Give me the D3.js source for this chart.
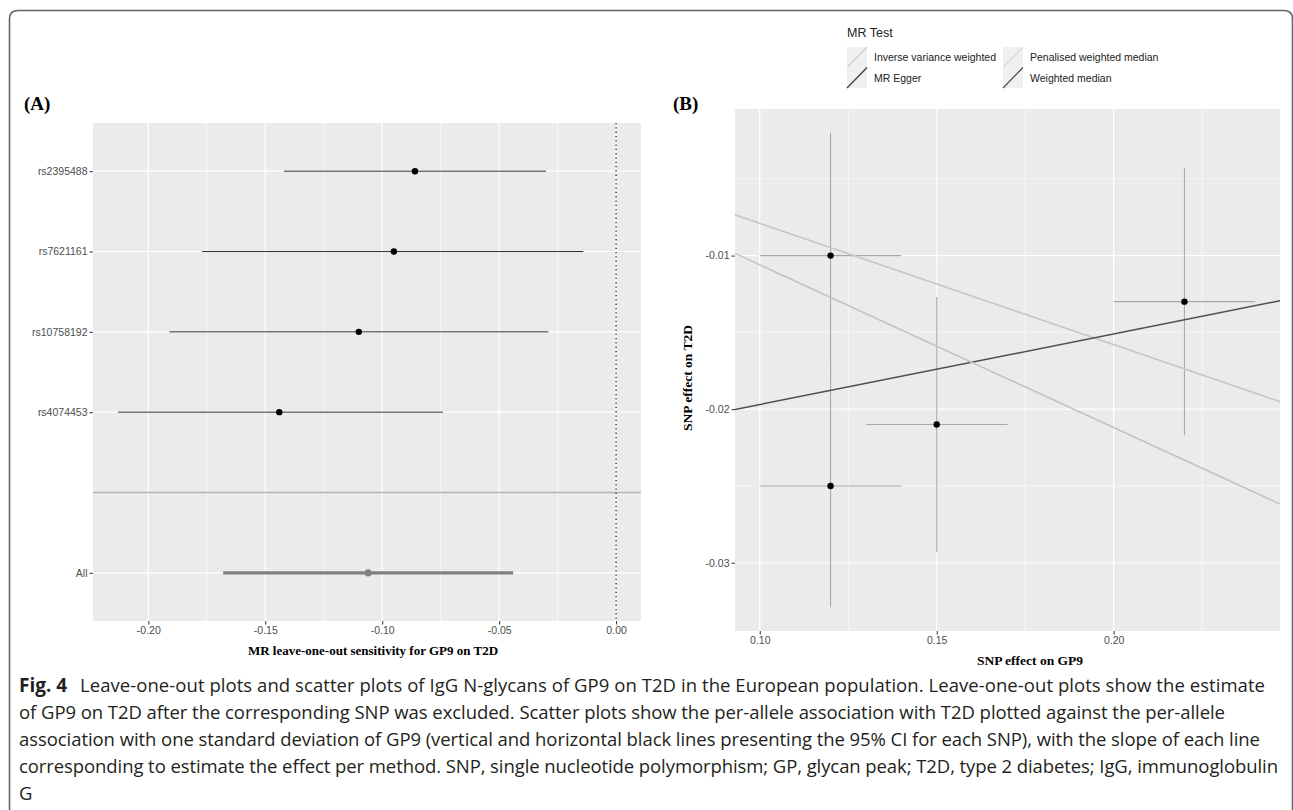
<!DOCTYPE html>
<html>
<head>
<meta charset="utf-8">
<script src="https://cdn.jsdelivr.net/npm/d3@7"></script>
<style>
  body { margin: 0; background: #fff; }
  svg { display: block; }
</style>
</head>
<body>
<svg id="fig" width="1293" height="810"></svg>
<script>
// ---- panel A: leave-one-out ----
const looSnps     = ['rs2395488', 'rs7621161', 'rs10758192', 'rs4074453', 'All'];
const looEstimate = [-0.086, -0.095, -0.110, -0.144, -0.106];
const looLower    = [-0.142, -0.177, -0.191, -0.213, -0.168];
const looUpper    = [-0.030, -0.014, -0.029, -0.074, -0.044];
const looTicks    = [-0.20, -0.15, -0.10, -0.05, 0.00];

// ---- panel B: scatter ----
const snpGp9      = [0.12, 0.22, 0.15, 0.12];
const snpGp9Lower = [0.10, 0.20, 0.13, 0.10];
const snpGp9Upper = [0.14, 0.24, 0.17, 0.14];
const snpT2d      = [-0.010, -0.013, -0.021, -0.025];
const snpT2dLower = [-0.018, -0.0217, -0.0293, -0.0329];
const snpT2dUpper = [-0.002, -0.0043, -0.0127, -0.0171];
const gp9Ticks    = [0.10, 0.15, 0.20];
const t2dTicks    = [-0.03, -0.02, -0.01];

const mrMethods   = ['Inverse variance weighted', 'MR Egger', 'Penalised weighted median', 'Weighted median'];
const mrSlope     = [-0.106, 0.046, -0.079, -0.079];
const mrIntercept = [0, -0.0243, 0, 0];

const captionLines = [
  'Leave-one-out plots and scatter plots of IgG N-glycans of GP9 on T2D in the European population. Leave-one-out plots show the estimate',
  'of GP9 on T2D after the corresponding SNP was excluded. Scatter plots show the per-allele association with T2D plotted against the per-allele',
  'association with one standard deviation of GP9 (vertical and horizontal black lines presenting the 95% CI for each SNP), with the slope of each line',
  'corresponding to estimate the effect per method. SNP, single nucleotide polymorphism; GP, glycan peak; T2D, type 2 diabetes; IgG, immunoglobulin',
  'G'
];

const STYLE = {
  panelBg     : '#ebebeb',
  grid        : '#ffffff',
  tickText    : '#4d4d4d',
  tickLine    : '#333333',
  sans        : '"Liberation Sans", Arial, sans-serif',
  serif       : '"Liberation Serif", "Times New Roman", serif',
  caption     : '"Open Sans", "Noto Sans", sans-serif',
  methodColor : ['#c2c2c2', '#4d4d4d', '#c8c8c8', '#c8c8c8'],
  methodWidth : [1.5, 1.5, 1.6, 1.0],
  keyColor    : ['#cfcfcf', '#3a3a3a', '#d8d8d8', '#4a4a4a'],
  errorBar    : '#a9a9a9'
};

const panelA = { left: 93, right: 641, top: 123, bottom: 621 };
const panelB = { left: 735, right: 1280, top: 109, bottom: 631 };

const fmt = d3.formatLocale({ decimal: '.', thousands: ',', grouping: [3], currency: ['', ''], minus: '-' }).format('.2f');
const svg = d3.select('#fig');

// ggplot style 5% expansion
const expand = ([a, b]) => [a - (b - a) * 0.05, b + (b - a) * 0.05];

function minorTicks(ticks, lo, hi) {
  const step = ticks[1] - ticks[0], out = [];
  for (let i = -1; i < ticks.length; i++) {
    const v = ticks[0] + step * (i + 0.5);
    if (v > lo && v < hi) out.push(v);
  }
  return out;
}

function styleAxis(g) {
  g.select('.domain').remove();
  g.selectAll('.tick line').attr('stroke', STYLE.tickLine).attr('stroke-width', 1);
  g.selectAll('.tick text')
    .attr('fill', STYLE.tickText)
    .style('font-family', STYLE.sans)
    .style('font-size', '10.5px');
}

// outer frame
svg.append('path')
  .attr('d', 'M9.5,812 L9.5,19 Q9.5,10.5 18,10.5 L1284,10.5 Q1292.5,10.5 1292.5,19 L1292.5,812')
  .attr('fill', 'none')
  .attr('stroke', '#666')
  .attr('stroke-width', 1.6);

// ================= panel A =================
const rowsA = [...looSnps.slice(0, 4), '', 'All'];
const xA = d3.scaleLinear()
  .domain(expand([d3.min(looLower), Math.max(d3.max(looUpper), 0)]))
  .range([panelA.left, panelA.right]);
const yA = d3.scalePoint().domain(rowsA).range([panelA.top, panelA.bottom]).padding(0.6);

const gA = svg.append('g');
gA.append('rect')
  .attr('x', panelA.left).attr('y', panelA.top)
  .attr('width', panelA.right - panelA.left).attr('height', panelA.bottom - panelA.top)
  .attr('fill', STYLE.panelBg);

gA.selectAll('line.minor')
  .data(minorTicks(looTicks, xA.domain()[0], xA.domain()[1]))
  .join('line')
  .attr('x1', d => xA(d)).attr('x2', d => xA(d))
  .attr('y1', panelA.top).attr('y2', panelA.bottom)
  .attr('stroke', STYLE.grid).attr('stroke-width', 0.6);

gA.selectAll('line.majorx')
  .data(looTicks)
  .join('line')
  .attr('x1', d => xA(d)).attr('x2', d => xA(d))
  .attr('y1', panelA.top).attr('y2', panelA.bottom)
  .attr('stroke', STYLE.grid).attr('stroke-width', 1.2);

gA.selectAll('line.majory')
  .data(rowsA)
  .join('line')
  .attr('x1', panelA.left).attr('x2', panelA.right)
  .attr('y1', d => yA(d)).attr('y2', d => yA(d))
  .attr('stroke', STYLE.grid).attr('stroke-width', 1.2);

// separator above the overall estimate
gA.append('line')
  .attr('x1', panelA.left).attr('x2', panelA.right)
  .attr('y1', yA('')).attr('y2', yA(''))
  .attr('stroke', '#b5b5b5').attr('stroke-width', 1.4);

// null effect
gA.append('line')
  .attr('x1', xA(0)).attr('x2', xA(0))
  .attr('y1', panelA.top).attr('y2', panelA.bottom)
  .attr('stroke', '#222').attr('stroke-width', 1.3)
  .attr('stroke-dasharray', '1.3,3');

const looRows = looSnps.map((snp, i) => ({
  snp, est: looEstimate[i], lo: looLower[i], hi: looUpper[i], all: snp === 'All'
}));

gA.selectAll('line.ci')
  .data(looRows)
  .join('line')
  .attr('x1', d => xA(d.lo)).attr('x2', d => xA(d.hi))
  .attr('y1', d => yA(d.snp)).attr('y2', d => yA(d.snp))
  .attr('stroke', d => d.all ? '#808080' : '#333')
  .attr('stroke-width', d => d.all ? 3.2 : 1);

gA.selectAll('circle')
  .data(looRows)
  .join('circle')
  .attr('cx', d => xA(d.est)).attr('cy', d => yA(d.snp))
  .attr('r', d => d.all ? 3.6 : 3.2)
  .attr('fill', d => d.all ? '#808080' : '#000');

svg.append('g')
  .attr('transform', `translate(0,${panelA.bottom})`)
  .call(d3.axisBottom(xA).tickValues(looTicks).tickFormat(fmt).tickSize(3.5).tickPadding(2))
  .call(styleAxis);

svg.append('g')
  .attr('transform', `translate(${panelA.left},0)`)
  .call(d3.axisLeft(yA).tickValues(looSnps).tickSize(3.5).tickPadding(2))
  .call(styleAxis);

svg.append('text')
  .attr('x', (panelA.left + panelA.right) / 2 + 6).attr('y', 655)
  .attr('text-anchor', 'middle')
  .style('font-family', STYLE.serif).style('font-weight', 'bold').style('font-size', '13px')
  .text('MR leave-one-out sensitivity for GP9 on T2D');

svg.append('text')
  .attr('x', 24).attr('y', 110)
  .style('font-family', STYLE.serif).style('font-weight', 'bold').style('font-size', '19px')
  .text('(A)');

// ================= panel B =================
const xB = d3.scaleLinear()
  .domain(expand([d3.min(snpGp9Lower), d3.max(snpGp9Upper)]))
  .range([panelB.left, panelB.right]);
const yB = d3.scaleLinear()
  .domain(expand([d3.min(snpT2dLower), d3.max(snpT2dUpper)]))
  .range([panelB.bottom, panelB.top]);

svg.append('clipPath').attr('id', 'clipB')
  .append('rect')
  .attr('x', panelB.left).attr('y', panelB.top)
  .attr('width', panelB.right - panelB.left).attr('height', panelB.bottom - panelB.top);

const gB = svg.append('g');
gB.append('rect')
  .attr('x', panelB.left).attr('y', panelB.top)
  .attr('width', panelB.right - panelB.left).attr('height', panelB.bottom - panelB.top)
  .attr('fill', STYLE.panelBg);

gB.selectAll('line.minorx')
  .data(minorTicks(gp9Ticks, xB.domain()[0], xB.domain()[1]))
  .join('line')
  .attr('x1', d => xB(d)).attr('x2', d => xB(d))
  .attr('y1', panelB.top).attr('y2', panelB.bottom)
  .attr('stroke', STYLE.grid).attr('stroke-width', 0.6);

gB.selectAll('line.minory')
  .data(minorTicks(t2dTicks, yB.domain()[0], yB.domain()[1]))
  .join('line')
  .attr('x1', panelB.left).attr('x2', panelB.right)
  .attr('y1', d => yB(d)).attr('y2', d => yB(d))
  .attr('stroke', STYLE.grid).attr('stroke-width', 0.6);

gB.selectAll('line.majorx')
  .data(gp9Ticks)
  .join('line')
  .attr('x1', d => xB(d)).attr('x2', d => xB(d))
  .attr('y1', panelB.top).attr('y2', panelB.bottom)
  .attr('stroke', STYLE.grid).attr('stroke-width', 1.2);

gB.selectAll('line.majory')
  .data(t2dTicks)
  .join('line')
  .attr('x1', panelB.left).attr('x2', panelB.right)
  .attr('y1', d => yB(d)).attr('y2', d => yB(d))
  .attr('stroke', STYLE.grid).attr('stroke-width', 1.2);

const snps = snpGp9.map((x, i) => ({
  x, y: snpT2d[i],
  xlo: snpGp9Lower[i], xhi: snpGp9Upper[i],
  ylo: snpT2dLower[i], yhi: snpT2dUpper[i]
}));

gB.selectAll('line.vbar')
  .data(snps)
  .join('line')
  .attr('x1', d => xB(d.x)).attr('x2', d => xB(d.x))
  .attr('y1', d => yB(d.ylo)).attr('y2', d => yB(d.yhi))
  .attr('stroke', STYLE.errorBar).attr('stroke-width', 1.1);

gB.selectAll('line.hbar')
  .data(snps)
  .join('line')
  .attr('x1', d => xB(d.xlo)).attr('x2', d => xB(d.xhi))
  .attr('y1', d => yB(d.y)).attr('y2', d => yB(d.y))
  .attr('stroke', STYLE.errorBar).attr('stroke-width', 1.1);

gB.selectAll('circle')
  .data(snps)
  .join('circle')
  .attr('cx', d => xB(d.x)).attr('cy', d => yB(d.y))
  .attr('r', 3.2).attr('fill', '#000');

// method lines, weighted median sits under the penalised one
const [x0, x1] = xB.domain();
const fits = mrMethods.map((m, i) => ({
  m, b: mrSlope[i], a: mrIntercept[i], color: STYLE.methodColor[i], w: STYLE.methodWidth[i]
})).reverse();
gB.append('g').attr('clip-path', 'url(#clipB)')
  .selectAll('line')
  .data(fits)
  .join('line')
  .attr('x1', xB(x0)).attr('x2', xB(x1))
  .attr('y1', d => yB(d.a + d.b * x0)).attr('y2', d => yB(d.a + d.b * x1))
  .attr('stroke', d => d.color).attr('stroke-width', d => d.w);

svg.append('g')
  .attr('transform', `translate(0,${panelB.bottom})`)
  .call(d3.axisBottom(xB).tickValues(gp9Ticks).tickFormat(fmt).tickSize(3.5).tickPadding(2))
  .call(styleAxis);

svg.append('g')
  .attr('transform', `translate(${panelB.left},0)`)
  .call(d3.axisLeft(yB).tickValues(t2dTicks).tickFormat(fmt).tickSize(3.5).tickPadding(2))
  .call(styleAxis);

svg.append('text')
  .attr('x', 1030).attr('y', 665)
  .attr('text-anchor', 'middle')
  .style('font-family', STYLE.serif).style('font-weight', 'bold').style('font-size', '13.5px')
  .text('SNP effect on GP9');

svg.append('text')
  .attr('transform', 'translate(692,378) rotate(-90)')
  .attr('text-anchor', 'middle')
  .style('font-family', STYLE.serif).style('font-weight', 'bold').style('font-size', '13.5px')
  .text('SNP effect on T2D');

svg.append('text')
  .attr('x', 673).attr('y', 110)
  .style('font-family', STYLE.serif).style('font-weight', 'bold').style('font-size', '19px')
  .text('(B)');

// ================= legend =================
const legend = svg.append('g');
legend.append('text')
  .attr('x', 847).attr('y', 37)
  .attr('fill', '#222')
  .style('font-family', STYLE.sans).style('font-size', '12.5px')
  .text('MR Test');

const keyCols = [847, 1003], keyRows = [47, 67.5], keyW = 20, keyH = 20.5;
const keys = legend.selectAll('g.key')
  .data(mrMethods.map((m, i) => ({ m, i, col: Math.floor(i / 2), row: i % 2 })))
  .join('g')
  .attr('transform', d => `translate(${keyCols[d.col]},${keyRows[d.row]})`);

keys.append('rect')
  .attr('width', keyW).attr('height', keyH)
  .attr('fill', '#f0f0f0');
keys.append('line')
  .attr('x1', 0).attr('y1', keyH).attr('x2', keyW).attr('y2', 0)
  .attr('stroke', d => STYLE.keyColor[d.i]).attr('stroke-width', 1.2);
keys.append('text')
  .attr('x', keyW + 7).attr('y', keyH / 2 + 3.8)
  .attr('fill', '#222')
  .style('font-family', STYLE.sans).style('font-size', '10.5px')
  .text(d => d.m);

// ================= caption =================
const capEnds = [1265, 1225, 1260, 1278];
const capY = [692, 719, 746, 773, 800];
const capX0 = 80;
svg.append('text')
  .attr('x', 19).attr('y', capY[0])
  .attr('fill', '#231f20')
  .style('font-family', STYLE.caption).style('font-weight', 'bold').style('font-size', '19px')
  .text('Fig. 4');

svg.selectAll('text.cap')
  .data(captionLines)
  .join('text')
  .attr('class', 'cap')
  .attr('x', (d, i) => i === 0 ? capX0 : 19)
  .attr('y', (d, i) => capY[i])
  .attr('textLength', (d, i) => i < 4 ? capEnds[i] - (i === 0 ? capX0 : 19) : null)
  .attr('lengthAdjust', 'spacing')
  .attr('fill', '#231f20')
  .style('font-family', STYLE.caption).style('font-size', '18.5px')
  .text(d => d);
</script>
</body>
</html>
